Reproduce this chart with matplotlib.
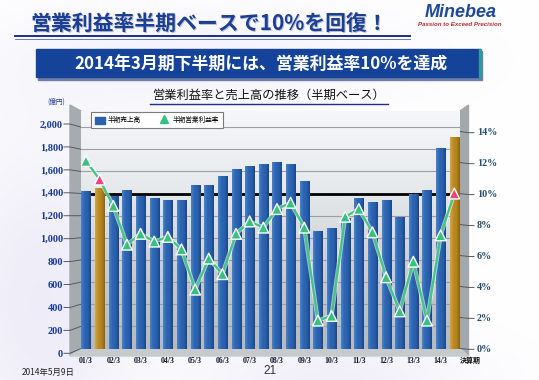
import matplotlib
matplotlib.use("Agg")
import matplotlib.pyplot as plt
import numpy as np
from matplotlib.patches import Polygon, Rectangle
from matplotlib.lines import Line2D
from matplotlib.colors import LinearSegmentedColormap

plt.rcParams['font.family'] = ['Noto Sans CJK JP', 'DejaVu Sans']

# ---------------- data ----------------
sales = [1420, 1450, 1380, 1430, 1380, 1360, 1340, 1345, 1475, 1475,
         1555, 1618, 1648, 1670, 1688, 1663, 1516, 1063, 1093, 1180,
         1360, 1320, 1338, 1190, 1392, 1434, 1814, 1914]
margin = [12.1, 10.9, 9.2, 6.7, 7.4, 6.9, 7.2, 6.4, 3.8, 5.8,
          4.8, 7.4, 8.2, 7.8, 9.0, 9.4, 7.8, 1.8, 2.1, 8.5,
          9.0, 7.5, 4.6, 2.4, 5.6, 1.8, 7.3, 10.0]
highlight = [1, 27]
period_labels = ['01/3', '02/3', '03/3', '04/3', '05/3', '06/3', '07/3',
                 '08/3', '09/3', '10/3', '11/3', '12/3', '13/3', '14/3']
last_label = '決算期'
left_ticks = [0, 200, 400, 600, 800, 1000, 1200, 1400, 1600, 1800, 2000]
right_ticks = [0, 2, 4, 6, 8, 10, 12, 14]
legend_labels = ['半期売上高', '半期営業利益率']
title = '営業利益率半期ベースで10%を回復！'
banner = '2014年3月期下半期には、営業利益率10%を達成'
chart_title = '営業利益率と売上高の推移（半期ベース）'
unit_label = '(億円)'
date_label = '2014年5月9日'
page_label = '21'

W, H = 539, 380
def fx(x): return x / W
def fy(y): return 1 - y / H

fig = plt.figure(figsize=(W / 100, H / 100), dpi=100)

# ---------------- background / decoration layer (pixel coords) ----------------
bg = fig.add_axes([0, 0, 1, 1])
bg.set_xlim(0, W)
bg.set_ylim(H, 0)
bg.axis('off')

yy, xx = np.mgrid[0:H, 0:W]
tint = (0.55 * np.exp(-((xx - 40) ** 2 / 9000 + (yy - 300) ** 2 / 30000))
        + 0.45 * np.exp(-((xx - 330) ** 2 / 20000 + (yy - 380) ** 2 / 2500))
        + 0.35 * np.exp(-((xx - 200) ** 2 / 40000 + (yy - 60) ** 2 / 3000)))
tint = np.clip(tint, 0, 1)
base = np.ones((H, W, 3))
lav = np.array([0.88, 0.87, 0.95])
img = base * (1 - tint[..., None]) + lav * tint[..., None]
bg.imshow(img, extent=[0, W, H, 0], aspect='auto', zorder=0)

# header title
bg.text(31, 24, title, fontsize=15, fontweight='bold', color='#b9c0d6',
        va='center', ha='left', zorder=2)
bg.text(30, 23, title, fontsize=15, fontweight='bold', color='#1c3f94',
        va='center', ha='left', zorder=3)
bg.plot([15, 410], [36, 36], color='#1a2f86', lw=1.4, zorder=3)
bg.plot([15, 410], [38.6, 38.6], color='#6a7cc0', lw=0.7, zorder=3)

# logo
bg.text(461, 12.5, 'Minebea', fontsize=13, fontweight='bold', style='italic',
        color='#1e4a9c', family='Liberation Sans', ha='center', va='center', zorder=3)
bg.text(460, 24.5, 'Passion to Exceed Precision', fontsize=4.4, fontweight='bold',
        style='italic', color='#c0262d', family='Liberation Sans',
        ha='center', va='center', zorder=3)

# banner
bg.add_patch(Rectangle((38, 51), 444, 28.5, color='#6f7fa8', zorder=2))
bg.add_patch(Rectangle((36, 49.3), 444, 28, color='#15439a', zorder=3))
bg.add_patch(Rectangle((479, 49.3), 2.2, 28, color='#2f9c9a', zorder=3))
bg.text(261, 63.5, banner, fontsize=12.2, fontweight='bold', color='white',
        ha='center', va='center', zorder=4)

# chart title
bg.text(269, 95.5, chart_title, fontsize=8.8, color='#111111',
        ha='center', va='center', zorder=3)
bg.plot([150, 388], [103.5, 103.5], color='#1c2f8f', lw=1.0, zorder=3)
bg.text(56, 101.5, unit_label, fontsize=4.8, color='#1a3a9a',
        ha='center', va='center', zorder=3)

# 3D box walls
bg.add_patch(Polygon([(70, 105), (81, 111), (81, 348.5), (70, 356)],
                     closed=True, color='#a6abb0', zorder=2))
bg.add_patch(Polygon([(460, 111), (468.5, 105), (468.5, 356), (460, 348.5)],
                     closed=True, color='#a3a8ad', zorder=2))
bg.add_patch(Polygon([(70, 356), (81, 348.5), (460, 348.5), (468.5, 356)],
                     closed=True, color='#c6cacd', zorder=2))

# slanted wall ticks
for v in left_ticks:
    yb = 348.5 - 0.1107 * v
    yf = 353.3 - 0.11465 * v
    bg.plot([64, 70, 81], [yf, yf, yb], color='#555a60', lw=0.7, zorder=3)
for v in right_ticks:
    yb = 348.5 - 15.5 * v
    yf = 349.3 - 15.47 * v
    bg.plot([460, 468.5, 474], [yb, yf, yf], color='#555a60', lw=0.7, zorder=3)

# last period label & footer
bg.text(470, 360, last_label, fontsize=5, fontweight='bold', color='#111111',
        ha='center', va='center', zorder=3)
bg.text(22, 372.5, date_label, fontsize=6, style='italic', color='#222222',
        ha='left', va='center', zorder=3)
bg.text(270, 370.5, page_label, fontsize=8.5, color='#333333', family='Liberation Sans',
        ha='center', va='center', zorder=3)

# ---------------- main chart ----------------
px_per_unit = 13.64
x0_px = 86
left_px, right_px, bottom_px, top_px = 81, 460, 348.5, 111
xlim = ((left_px - x0_px) / px_per_unit, (right_px - x0_px) / px_per_unit)
ymax = (bottom_px - top_px) / 0.1107

ax = fig.add_axes([fx(left_px), fy(bottom_px), (right_px - left_px) / W,
                   (bottom_px - top_px) / H])
ax.set_xlim(*xlim)
ax.set_ylim(0, ymax)

# back wall gradient
wall_cmap = LinearSegmentedColormap.from_list('wall', ['#b3b9be', '#c9cdd1', '#e6e9ec', '#f5f7f9'])
grad = np.linspace(0, 1, 256).reshape(-1, 1)
ax.imshow(grad, extent=[xlim[0], xlim[1], 0, ymax], origin='lower',
          aspect='auto', cmap=wall_cmap, zorder=0)

for v in left_ticks[1:]:
    if v == 1400:
        continue
    ax.axhline(v, color='#9aa0a6', lw=0.8, zorder=1)
ax.axhline(1400, color='#000000', lw=2.0, zorder=2)

x = np.arange(len(sales))
bar_colors = ['#b5861f' if i in highlight else '#2b62ae' for i in x]
bars = ax.bar(x, sales, width=0.66, color=bar_colors, zorder=3, linewidth=0)

blue_cmap = LinearSegmentedColormap.from_list('b', ['#4a82cc', '#2d66b4', '#2a60ab', '#1a4688'])
orange_cmap = LinearSegmentedColormap.from_list('o', ['#d6a642', '#bb8c24', '#b2831d', '#8a610f'])
hgrad = np.linspace(0, 1, 64).reshape(1, -1)
for i, b in enumerate(bars):
    cm = orange_cmap if i in highlight else blue_cmap
    im = ax.imshow(hgrad, extent=[b.get_x(), b.get_x() + b.get_width(), 0, b.get_height()],
                   aspect='auto', cmap=cm, zorder=3.5)
    im.set_clip_path(b)
ax.set_xlim(*xlim)
ax.set_ylim(0, ymax)

for s in ax.spines.values():
    s.set_visible(False)
ax.set_yticks([])
ax.set_xticks(range(0, 27, 2), period_labels, fontsize=5.7, fontweight='bold',
              family='Liberation Serif', color='#14182e')
ax.tick_params(axis='x', length=0, pad=6)

# right axis (margin)
ax2 = ax.twinx()
ax2.set_ylim(0, ymax / 140)
ax2.set_xlim(*xlim)
for s in ax2.spines.values():
    s.set_visible(False)
ax2.set_yticks(right_ticks, [f'{v}%' for v in right_ticks], fontsize=7.3,
               fontweight='bold', family='Liberation Serif', color='#234e6e')
ax2.tick_params(axis='y', length=0, pad=12)

ax2.plot(x, margin, color='#ffffff', lw=3.0, zorder=4, alpha=0.6)
ax2.plot(x, margin, color='#45c585', lw=1.7, zorder=5)
mcol = ['#e8457c' if i in highlight else '#36c27c' for i in x]
ax2.scatter(x, margin, marker='^', s=60, c=mcol, edgecolors='white',
            linewidths=1.0, zorder=6)

# left axis labels placed at front edge of the 3D box
axL = fig.add_axes([fx(70), fy(353.3), 0.001, 0.11465 * ymax / H])
axL.set_ylim(0, ymax)
axL.patch.set_visible(False)
for s in axL.spines.values():
    s.set_visible(False)
axL.set_xticks([])
axL.set_yticks(left_ticks, [f'{v:,}' for v in left_ticks], fontsize=7.5,
               fontweight='bold', family='Liberation Serif', color='#1a3a9a')
axL.tick_params(axis='y', length=0, pad=5)

# legend
handles = [Rectangle((0, 0), 1, 1, color='#2b62ae'),
           Line2D([], [], marker='^', color='none', markerfacecolor='#36c27c',
                  markeredgecolor='#36c27c', markersize=6)]
leg = ax2.legend(handles, legend_labels, loc='upper left',
                 bbox_to_anchor=(fx(88), fy(109)), bbox_transform=fig.transFigure,
                 ncol=2, fontsize=4.8, frameon=True, fancybox=False,
                 edgecolor='#7a7a7a', framealpha=1.0, handlelength=1.4,
                 handleheight=1.2, columnspacing=2.8, borderpad=0.6,
                 handletextpad=0.5)
leg.get_frame().set_linewidth(0.8)

fig.savefig('out.png', dpi=100)
